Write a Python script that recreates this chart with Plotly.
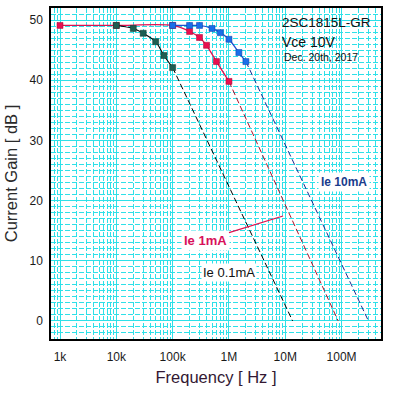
import plotly.graph_objects as go

# ---- data ----
f_01 = [10e3, 20e3, 30e3, 50e3, 70e3, 100e3]          # Ie 0.1mA
g_01 = [49.1, 48.6, 47.8, 46.4, 44.1, 42.1]
f_1 = [1e3, 10e3, 100e3, 200e3, 300e3, 400e3, 600e3, 1e6]   # Ie 1mA
g_1 = [49.1, 49.1, 49.1, 48.1, 47.1, 45.8, 43.1, 39.8]
f_10 = [100e3, 200e3, 300e3, 500e3, 700e3, 1e6, 1.5e6, 2e6]  # Ie 10mA
g_10 = [49.1, 49.1, 49.1, 48.6, 47.9, 46.8, 44.6, 43.1]

# -20 dB/dec extrapolations (end points)
ext_f_01 = [100e3, 13.5e6]
ext_g_01 = [42.1, 0]
ext_f_1 = [1e6, 87e6]
ext_g_1 = [39.8, 0]
ext_f_10 = [2e6, 300e6]
ext_g_10 = [43.1, 0]

x_tickvals = [1e3, 1e4, 1e5, 1e6, 1e7, 1e8]
x_ticktext = ["1k", "10k", "100k", "1M", "10M", "100M"]
y_tickvals = [0, 10, 20, 30, 40, 50]

CYAN = "#2ee0e8"
FONT = "Liberation Sans, Arial, sans-serif"

fig = go.Figure()

# dashed extrapolations
fig.add_trace(go.Scatter(x=ext_f_01, y=ext_g_01, mode="lines",
                         line=dict(color="#000000", width=1, dash="6px,3px"), hoverinfo="skip"))
fig.add_trace(go.Scatter(x=ext_f_1, y=ext_g_1, mode="lines",
                         line=dict(color="#b0102a", width=1, dash="6px,3px"), hoverinfo="skip"))
fig.add_trace(go.Scatter(x=ext_f_10, y=ext_g_10, mode="lines",
                         line=dict(color="#1a2a90", width=1, dash="6px,3px"), hoverinfo="skip"))

# measured curves
fig.add_trace(go.Scatter(x=f_1, y=g_1, mode="lines+markers",
                         line=dict(color="#e0104f", width=1.3, shape="spline", smoothing=0.8),
                         marker=dict(symbol="square", size=6, color="#e8104f",
                                     line=dict(color="#a00030", width=0.5))))
fig.add_trace(go.Scatter(x=f_01, y=g_01, mode="lines+markers",
                         line=dict(color="#000000", width=1.1, shape="spline", smoothing=0.8),
                         marker=dict(symbol="square", size=6, color="#1e5e52",
                                     line=dict(color="#0c3028", width=0.5))))
fig.add_trace(go.Scatter(x=f_10, y=g_10, mode="lines+markers",
                         line=dict(color="#1f4fd0", width=1.3, shape="spline", smoothing=0.8),
                         marker=dict(symbol="square", size=6, color="#1a6ee8",
                                     line=dict(color="#0a3aa0", width=0.5))))

fig.update_layout(
    width=395, height=395,
    margin=dict(l=51, r=14, t=8, b=56, autoexpand=False),
    paper_bgcolor="white", plot_bgcolor="white",
    showlegend=False,
    font=dict(family=FONT, size=12, color="#1a1a1a"),
    xaxis=dict(
        type="log", range=[2.84, 8.70], automargin=False,
        tickvals=x_tickvals, ticktext=x_ticktext,
        showgrid=True, gridcolor=CYAN, gridwidth=1,
        minor=dict(dtick="D1", showgrid=True, gridcolor=CYAN, gridwidth=1,
                   griddash="5px,2px", ticks=""),
        showline=True, linecolor="black", linewidth=1.5, mirror=True,
        ticks="", ticklabelstandoff=6, zeroline=False,
        tickfont=dict(size=12, color="#1a1a1a"),
        title=dict(text="Frequency [ Hz ]", font=dict(size=16.5, color="#331833"), standoff=8),
    ),
    yaxis=dict(
        range=[-3, 52], tickvals=y_tickvals, automargin=False,
        showgrid=True, gridcolor=CYAN, gridwidth=1,
        minor=dict(dtick=1, showgrid=True, gridcolor=CYAN, gridwidth=1,
                   griddash="5px,2px", ticks=""),
        showline=True, linecolor="black", linewidth=1.5, mirror=True,
        ticks="", ticklabelstandoff=4, zeroline=False,
        tickfont=dict(size=12, color="#1a1a1a"),
        title=dict(text="Current Gain [ dB ]", font=dict(size=16.5, color="#2a2a2a"), standoff=8),
    ),
)

# white box behind the title block
fig.add_shape(type="rect", xref="paper", yref="paper",
              x0=0.685, x1=0.979, y0=0.828, y1=0.988,
              fillcolor="white", line=dict(width=0), layer="between")

fig.add_annotation(text="2SC1815L-GR", xref="paper", yref="paper", x=0.694, y=0.955,
                   xanchor="left", yanchor="middle", showarrow=False,
                   font=dict(size=13.5, color="#111111"))
fig.add_annotation(text="Vce 10V", xref="paper", yref="paper", x=0.694, y=0.897,
                   xanchor="left", yanchor="middle", showarrow=False,
                   font=dict(size=14, color="#111111"))
fig.add_annotation(text="Dec. 20th, 2017", xref="paper", yref="paper", x=0.700, y=0.852,
                   xanchor="left", yanchor="middle", showarrow=False,
                   font=dict(size=10.5, color="#111111"))

fig.add_annotation(text="<b>Ie 10mA</b>", xref="paper", yref="paper",
                   x=(344 - 51) / 330, y=(339 - 182) / 331,
                   xanchor="center", yanchor="middle", showarrow=False,
                   bgcolor="white", borderpad=2,
                   font=dict(size=12, color="#1a3c8c"))
fig.add_annotation(text="<b>Ie 1mA</b>", xref="paper", yref="paper",
                   x=(283 - 51) / 330, y=(339 - 216) / 331,
                   ax=-78, ay=24, showarrow=True, arrowhead=0, arrowwidth=1.3,
                   arrowcolor="#e0104f", bgcolor="white", borderpad=2,
                   font=dict(size=13, color="#d8105a"))
fig.add_annotation(text="Ie 0.1mA", xref="paper", yref="paper",
                   x=(229 - 51) / 330, y=(339 - 272.5) / 331,
                   xanchor="center", yanchor="middle", showarrow=False,
                   bgcolor="white", borderpad=1,
                   font=dict(size=13, color="#111111"))

fig.write_html("out.html",
               config={"displayModeBar": False},
               post_script="document.body.style.margin='0';document.body.style.padding='0';")
